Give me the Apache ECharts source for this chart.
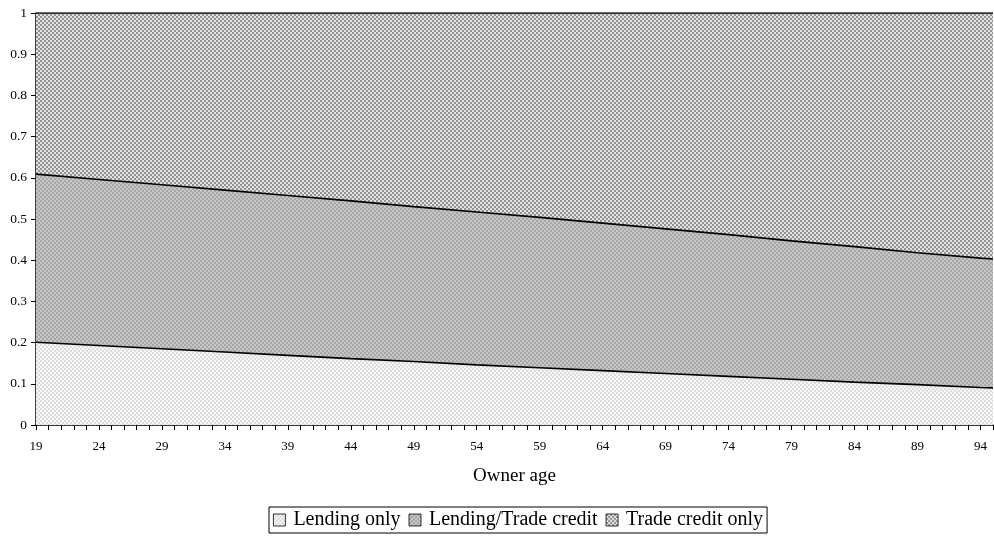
<!DOCTYPE html>
<html>
<head>
<meta charset="utf-8">
<script src="https://cdn.jsdelivr.net/npm/echarts@6/dist/echarts.min.js"></script>
<style>html,body{margin:0;padding:0;background:#fff}#c{width:994px;height:540px}</style>
</head>
<body>
<div id="c"></div>
<script>
// Owner ages (x positions of read points)
var ages = [19, 24, 29, 34, 39, 44, 49, 54, 59, 64, 69, 74, 79, 84, 89, 94, 95];
// Cumulative share: top of "Lending only" (lower boundary line)
var lendingOnlyTop = [0.201, 0.193, 0.185, 0.177, 0.169, 0.161, 0.154, 0.146, 0.139, 0.132, 0.125, 0.118, 0.111, 0.104, 0.098, 0.091, 0.090];
// Cumulative share: top of "Lending/Trade credit" (upper boundary line)
var lendingTradeTop = [0.609, 0.596, 0.583, 0.570, 0.557, 0.544, 0.530, 0.517, 0.504, 0.490, 0.476, 0.462, 0.447, 0.433, 0.418, 0.405, 0.403];
// Cumulative share: top of "Trade credit only" (all shares sum to one)
var tradeOnlyTop = [1, 1, 1, 1, 1, 1, 1, 1, 1, 1, 1, 1, 1, 1, 1, 1, 1];
var seriesNames = ['Lending only', 'Lending/Trade credit', 'Trade credit only'];
var yTicks = [0, 0.1, 0.2, 0.3, 0.4, 0.5, 0.6, 0.7, 0.8, 0.9, 1];

function pattern(c1, c2, cell) {
  var cv = document.createElement('canvas');
  cv.width = cell * 2; cv.height = cell * 2;
  var ctx = cv.getContext('2d');
  ctx.fillStyle = c1; ctx.fillRect(0, 0, cell * 2, cell * 2);
  ctx.fillStyle = c2;
  ctx.fillRect(0, 0, cell, cell);
  ctx.fillRect(cell, cell, cell, cell);
  return { image: cv, repeat: 'repeat' };
}
var pats = [
  pattern('#f6f6f6', '#dcdcdc', 2),
  pattern('#c6c6c6', '#a8a8a8', 2),
  pattern('#e2e2e2', '#939393', 2)
];

var tops = [lendingOnlyTop, lendingTradeTop, tradeOnlyTop];

var font = '"Liberation Serif", "Times New Roman", serif';
var chart = echarts.init(document.getElementById('c'), null, { renderer: 'canvas' });
// Draw from the outermost band inward so the lower bands cover the upper ones
var order = [2, 1, 0];
chart.setOption({
  animation: false,
  backgroundColor: '#fff',
  grid: { left: 36, right: 1, top: 13, bottom: 115, containLabel: false },
  xAxis: {
    type: 'value', min: 19, max: 95, interval: 5,
    name: 'Owner age', nameLocation: 'middle', nameGap: 42,
    nameTextStyle: { fontFamily: font, fontSize: 19, color: '#000' },
    axisLine: { show: true, lineStyle: { color: '#000', width: 1.5 } },
    axisTick: { show: true, length: 5, lineStyle: { color: '#000', width: 1 } },
    minorTick: { show: true, splitNumber: 5, length: 5, lineStyle: { color: '#000', width: 1 } },
    splitLine: { show: false },
    axisLabel: {
      margin: 15, fontFamily: font, fontSize: 13, color: '#000', showMaxLabel: false,
      formatter: function (v) { return v === 95 ? '' : String(v); }
    }
  },
  yAxis: {
    type: 'value', min: 0, max: 1, interval: 0.1,
    axisLine: { show: true, lineStyle: { color: '#000', width: 1.5 } },
    axisTick: { show: true, length: 5, lineStyle: { color: '#000', width: 1 } },
    splitLine: { show: false },
    axisLabel: {
      margin: 9, fontFamily: font, fontSize: 13.5, color: '#000',
      formatter: function (v) {
        var t = yTicks.filter(function (x) { return Math.abs(x - v) < 1e-6; });
        return t.length ? String(t[0]) : '';
      }
    }
  },
  legend: {
    data: seriesNames,
    left: 269, top: 507,
    icon: 'rect', itemWidth: 12, itemHeight: 12, itemGap: 8,
    padding: [3, 4, 3, 4],
    borderColor: '#000', borderWidth: 1,
    itemStyle: { borderColor: '#000', borderWidth: 0.8 },
    textStyle: { fontFamily: font, fontSize: 20, color: '#000', padding: [0, 0, 0, 3] }
  },
  series: order.map(function (i) {
    return {
      name: seriesNames[i], type: 'line',
      data: ages.map(function (a, k) { return [a, tops[i][k]]; }),
      showSymbol: false, symbol: 'none',
      itemStyle: { color: pats[i] },
      lineStyle: { color: '#000', width: 1.6 },
      areaStyle: { color: pats[i], opacity: 1, origin: 'start' }
    };
  })
});
</script>
</body>
</html>
